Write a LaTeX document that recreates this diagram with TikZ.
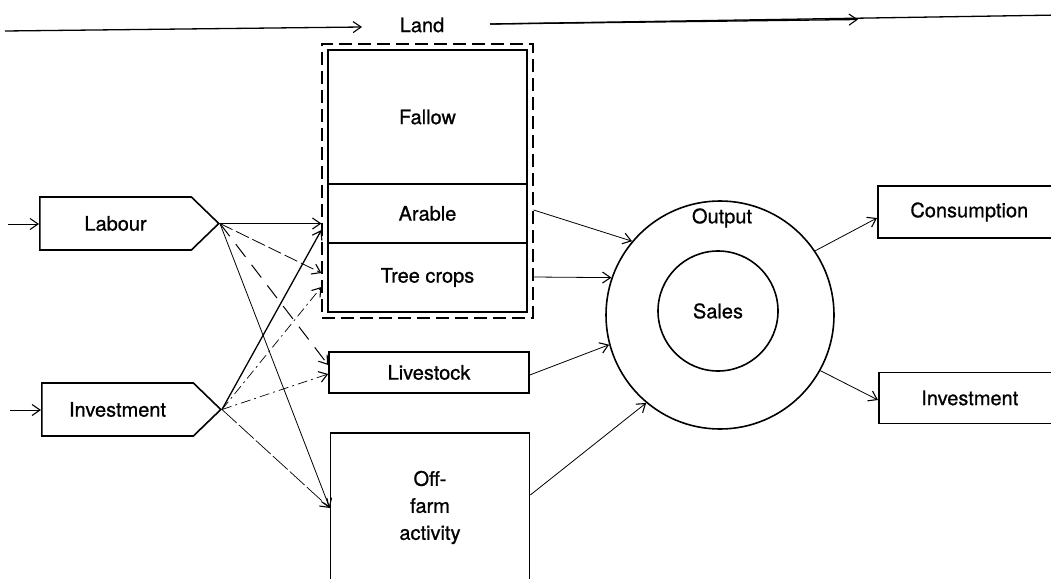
\documentclass[tikz,border=0pt]{standalone}
\usepackage{fontspec}
\setmainfont[FakeBold=0.8]{TeX Gyre Heros}
\usetikzlibrary{arrows.meta,shapes.symbols,fit,calc}
\begin{document}
\begin{tikzpicture}[x=1pt,y=-1pt,
  font=\fontsize{20}{27}\selectfont,
  box/.style={draw, line width=1.6pt, inner sep=0pt, align=center},
  tip/.style={-{Straight Barb[length=8pt,width=11pt,line width=1.1pt]}},
  conn/.style={tip, line width=0.8pt},
  pent/.style={box, signal, signal to=east, signal pointer angle=88,
    minimum width=179pt, minimum height=53pt, anchor=west},
  ring/.style={draw, circle, line width=1.6pt, inner sep=0pt}]
\useasboundingbox (0,0) rectangle (1051,578);
\clip (0,0) rectangle (1051,578);

% Land line
\node (land) at (422,25) {Land};
\coordinate (landstart) at (5,31);
\coordinate (landL) at (362,27);
\coordinate (landR) at (490,24);
\coordinate (landmid) at (858,19.5);
\coordinate (landend) at (1060,15);
\draw[conn, line width=1.3pt] (landstart) -- (landL);
\draw[line width=1.3pt] (landR) -- (landend);
\draw[conn, line width=1.3pt] (landR) -- (landmid);

% Land boxes
\node[box, minimum width=199pt, minimum height=134pt] (fallow) at (427.5,117) {Fallow};
\node[box, minimum width=199pt, minimum height=59pt] (arable) at (427.5,213.5) {Arable};
\node[box, minimum width=199pt, minimum height=69pt] (treecrops) at (427.5,277.5) {Tree crops};
\node[draw, line width=1.6pt, dash pattern=on 13pt off 6pt, fit=(fallow)(treecrops), inner sep=5pt] (landbox) {};

\node[box, minimum width=200pt, minimum height=41pt] (livestock) at (429,372.5) {Livestock};
\node[box, minimum width=199pt, minimum height=149pt] (offfarm) at (430,507.5) {Off-\\farm\\activity};

% Inputs
\node[pent] (labour) at (39,223.5) {Labour};
\node[pent] (invest) at (41,409.5) {Investment};
\coordinate (labin) at (8,224);
\coordinate (invin) at (10,410);
\draw[conn] (labin) -- (labour.west |- labin);
\draw[conn] (invin) -- (invest.west |- invin);

% Fan from Labour
\draw[conn] (labour.east) -- (landbox.west |- labour.east);
\draw[conn, dash pattern=on 14pt off 4pt] (labour.east) -- (landbox.west |- 0,273);
\draw[conn, line width=1pt, dash pattern=on 16pt off 10pt] (labour.east) -- (livestock.west |- 0,365);
\draw[conn] (labour.east) -- (offfarm.west |- 0,508);

% Fan from Investment
\draw[conn, line width=1.3pt] (invest.east) -- (landbox.west |- 0,230);
\draw[conn, line width=0.7pt, dash pattern=on 10pt off 4pt on 2pt off 4pt] (invest.east) -- (landbox.west |- 0,287);
\draw[conn, line width=0.7pt, dash pattern=on 10pt off 4pt on 2pt off 4pt] (invest.east) -- (livestock.west |- 0,374);
\draw[conn, line width=0.7pt, dash pattern=on 20pt off 3pt] (invest.east) -- (offfarm.west |- 0,508);

% Output rings
\node[ring, minimum size=228pt] (output) at (720,315) {};
\node[ring, minimum size=120pt] (sales) at (718,311) {Sales};
\node (outlabel) at (722,218) {Output};

% Destinations
\node[box, minimum width=183pt, minimum height=52pt, anchor=west] (consumption) at (877,212) {Consumption};
\node[box, minimum width=182pt, minimum height=51pt, anchor=west] (invest2) at (878,398) {Investment};

% To output
\draw[conn] (landbox.east |- 0,210) -- (output.140);
\draw[conn] (landbox.east |- 0,277) -- (output.161);
\draw[conn] (livestock.east |- 0,375) -- (output.195);
\draw[conn] (offfarm.east |- 0,495) -- (output.230);

% From output
\draw[conn] (output.34) -- (consumption.west |- 0,218);
\draw[conn] (output.-29) -- (invest2.west |- 0,400);
\end{tikzpicture}
\end{document}
